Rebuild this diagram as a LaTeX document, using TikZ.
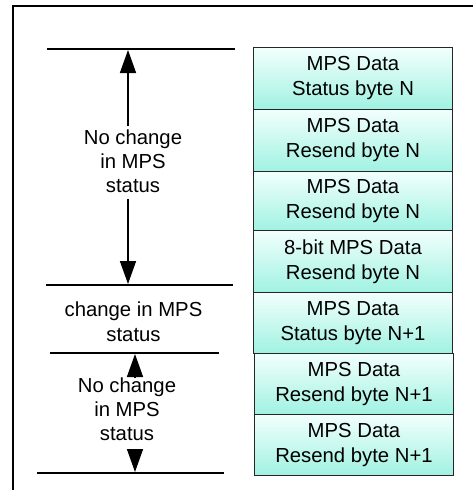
\documentclass[tikz,border=0pt]{standalone}
\usepackage{fontspec}
\setmainfont{Liberation Sans}
\usetikzlibrary{arrows.meta}

\definecolor{boxtop}{RGB}{242,255,252}
\definecolor{boxbottom}{RGB}{160,242,226}

\tikzset{
  databox/.style={draw=black!85, line width=1pt, top color=boxtop, bottom color=boxbottom,
    minimum width=199pt, inner sep=0pt, anchor=north west, align=center,
    font=\fontsize{20.3pt}{25pt}\selectfont},
  label/.style={inner sep=0pt, align=center, font=\fontsize{20.3pt}{24pt}\selectfont},
  rule/.style={line width=2.2pt},
  arr/.style={line width=1.5pt, -{Triangle[width=16pt,length=23pt]}},
  frame/.style={line width=2pt}
}

\begin{document}
\begin{tikzpicture}[x=1pt,y=-1pt]
\useasboundingbox (0,0) rectangle (473,490);

% outer frame (open to the right and bottom)
\coordinate (fbl) at (13,492);
\coordinate (ftl) at (13,6);
\coordinate (ftr) at (475,6);
\draw[frame] (fbl) -- (ftl) -- (ftr);

% stack of data bytes
\node[databox, minimum height=62pt] (b1) at (253,47) {MPS Data\\Status byte N};
\node[databox, minimum height=62pt] (b2) at (253,109) {MPS Data\\Resend byte N};
\node[databox, minimum height=59pt] (b3) at (253,171) {MPS Data\\Resend byte N};
\node[databox, minimum height=62pt] (b4) at (253,230) {8-bit MPS Data\\Resend byte N};
\node[databox, minimum height=61pt] (b5) at (253,292) {MPS Data\\Status byte N+1};
\node[databox, minimum height=61pt] (b6) at (254,353) {MPS Data\\Resend byte N+1};
\node[databox, minimum height=61pt] (b7) at (254,414) {MPS Data\\Resend byte N+1};

% boundary rules
\coordinate (r1a) at (47,49);  \coordinate (r1b) at (235,49);
\coordinate (r2a) at (46,285); \coordinate (r2b) at (233,285);
\coordinate (r3a) at (50,353); \coordinate (r3b) at (219,353);
\coordinate (r4a) at (37,473); \coordinate (r4b) at (224,473);
\draw[rule] (r1a) -- (r1b);
\draw[rule] (r2a) -- (r2b);
\draw[rule] (r3a) -- (r3b);
\draw[rule] (r4a) -- (r4b);

% first span: no change
\node[label] (t1) at (133,161.5) {No change\\in MPS\\status};
\coordinate (a1s) at (128,126); \coordinate (a1e) at (128,50);
\coordinate (a2s) at (128,199); \coordinate (a2e) at (128,284);
\draw[arr] (a1s) -- (a1e);
\draw[arr] (a2s) -- (a2e);

% change in status
\node[label, font=\fontsize{20.3pt}{25pt}\selectfont] (t2) at (133.5,322) {change in MPS\\status};

% second span: no change
\node[label] (t3) at (127,409) {No change\\in MPS\\status};
\coordinate (a3s) at (135,377); \coordinate (a3e) at (135,354);
\coordinate (a4s) at (135,449); \coordinate (a4e) at (135,472);
\draw[arr] (a3s) -- (a3e);
\draw[arr] (a4s) -- (a4e);
\end{tikzpicture}
\end{document}
